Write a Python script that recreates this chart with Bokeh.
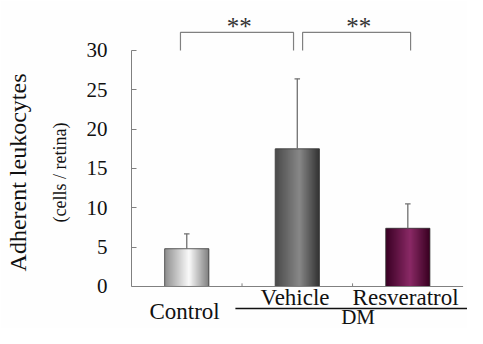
import numpy as np
from bokeh.plotting import figure
from bokeh.models import Range1d, FixedTicker, LinearAxis
from bokeh.core.properties import value
from bokeh.embed import file_html
from bokeh.resources import INLINE

# ---- data ----
categories = ["Control", "Vehicle", "Resveratrol"]
means = [4.8, 17.5, 7.4]
errors = [1.9, 8.9, 3.1]
group_label = "DM"
group_members = ["Vehicle", "Resveratrol"]
y_ticks = [0, 5, 10, 15, 20, 25, 30]
y_title = "Adherent leukocytes"
y_subtitle = "(cells / retina)"
sig_pairs = [("Control", "Vehicle"), ("Vehicle", "Resveratrol")]
sig_marks = ["**", "**"]

# ---- styles ----
edge_left = ["#8e8e8e", "#4a4a4a", "#3a0024"]
center_col = ["#fafafa", "#888888", "#8a2a66"]
edge_right = ["#7e7e7e", "#323232", "#380020"]
FONT = value("Liberation Serif")
TXT = "#111111"

p = figure(width=467, height=328, output_backend="svg", toolbar_location=None,
           x_range=Range1d(0, 3.04), y_range=Range1d(-5.34, 34.32),
           x_axis_location=None, min_border_left=131, min_border_right=0,
           min_border_top=16, min_border_bottom=0)
p.grid.visible = False
p.outline_line_color = None
p.background_fill_color = "#fefefe"
p.border_fill_color = "#fefefe"

xc = np.arange(len(categories)) + 0.5
bw = 0.40


def hex2rgb(h):
    h = h.lstrip("#")
    return np.array([int(h[i:i + 2], 16) for i in (0, 2, 4)], dtype=float)


def rgb2hex(c):
    return "#%02x%02x%02x" % tuple(int(round(v)) for v in c)


# gradient bars built from overlapping strips
N = 44
L, R, T, C = [], [], [], []
for i, m in enumerate(means):
    cl, cc, cr = hex2rgb(edge_left[i]), hex2rgb(center_col[i]), hex2rgb(edge_right[i])
    for k in range(N):
        t = (k + 0.5) / N
        peak = 0.55
        if t < peak:
            col = cl + (cc - cl) * (t / peak)
        else:
            col = cc + (cr - cc) * ((t - peak) / (1 - peak))
        L.append(xc[i] - bw / 2 + bw * k / N)
        R.append(min(xc[i] - bw / 2 + bw * (k + 1) / N + 0.008, xc[i] + bw / 2))
        T.append(m)
        C.append(rgb2hex(col))
p.quad(left=L, right=R, bottom=0, top=T, fill_color=C, line_color=None)
p.vbar(x=xc, width=bw, top=means, bottom=0, fill_color=None, line_color="#3a3a3a", line_width=0.8)

# error bars (upper only)
tops = [m + e for m, e in zip(means, errors)]
p.segment(x0=xc, y0=means, x1=xc, y1=tops, line_color="#707070", line_width=1.3)
p.segment(x0=xc - 0.025, y0=tops, x1=xc + 0.025, y1=tops, line_color="#707070", line_width=1.3)

# x baseline and ticks
n = len(categories)
p.segment(x0=[0], y0=[0], x1=[n], y1=[0], line_color="#808080", line_width=1.2)
p.segment(x0=list(range(1, n)), y0=[0] * (n - 1), x1=list(range(1, n)), y1=[0.4] * (n - 1),
          line_color="#808080", line_width=1)

# category labels
idx = {c: i for i, c in enumerate(categories)}
lab_y = [-3.18 if c not in group_members else -1.40 for c in categories]
p.text(x=xc - 0.02, y=lab_y, text=categories, text_font=FONT, text_font_size="23px",
       text_align="center", text_baseline="middle", text_color=TXT)
g0 = xc[idx[group_members[0]]] - 0.56
p.segment(x0=[g0], y0=[-2.80], x1=[3.2], y1=[-2.80], line_color=TXT, line_width=1.6)
gx = np.mean([xc[idx[g]] for g in group_members]) + 0.05
p.text(x=[gx], y=[-3.94], text=[group_label], text_font=FONT, text_font_size="21px",
       text_align="center", text_baseline="middle", text_color=TXT)

# significance brackets
offs = [(-0.057, -0.034), (0.048, 0.025)]
for (a, b), mk, (oa, ob) in zip(sig_pairs, sig_marks, offs):
    xa, xb = xc[idx[a]] + oa, xc[idx[b]] + ob
    p.line(x=[xa, xa, xb, xb], y=[30, 32.3, 32.3, 30], line_color="#808080", line_width=1.2)
    p.text(x=[(xa + xb) / 2 + 0.02], y=[33.1], text=[mk], text_font=FONT, text_font_size="25px",
           text_align="center", text_baseline="alphabetic", text_color="#333333")

# y axis (inner: ticks + subtitle)
ax = p.yaxis[0]
ax.ticker = FixedTicker(ticks=y_ticks)
ax.bounds = (0, 30)
ax.major_tick_in = 5
ax.major_tick_out = 0
ax.minor_tick_line_color = None
ax.axis_line_color = "#808080"
ax.major_tick_line_color = "#808080"
ax.major_label_text_font = "Liberation Serif"
ax.major_label_text_font_size = "21px"
ax.major_label_text_color = TXT
ax.major_label_standoff = 24
ax.axis_label = y_subtitle
ax.axis_label_text_font = "Liberation Serif"
ax.axis_label_text_font_style = "normal"
ax.axis_label_text_font_size = "18px"
ax.axis_label_text_color = TXT
ax.axis_label_standoff = 14

# outer axis carrying the main title
outer = LinearAxis(ticker=FixedTicker(ticks=[]),
                   axis_line_color=None, major_tick_line_color=None,
                   minor_tick_line_color=None,
                   axis_label=y_title, axis_label_text_font="Liberation Serif",
                   axis_label_text_font_style="normal", axis_label_text_font_size="24px",
                   axis_label_text_color=TXT, axis_label_standoff=16)
p.add_layout(outer, "left")

open("out.html", "w").write(file_html(p, INLINE))
